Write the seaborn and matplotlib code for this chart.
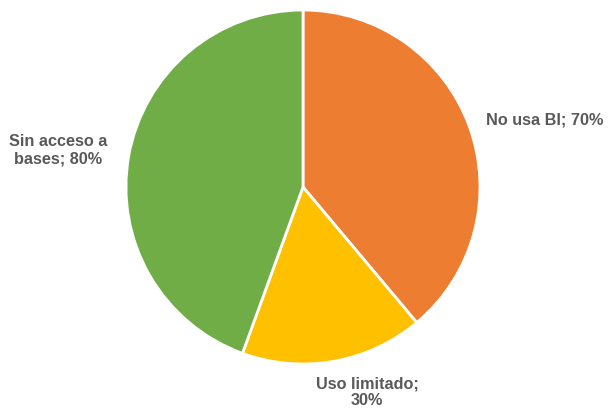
import matplotlib
matplotlib.use("Agg")
import matplotlib.pyplot as plt
import seaborn as sns

categories = ["No usa BI", "Uso limitado", "Sin acceso a bases"]
values = [70, 30, 80]
label_texts = ["No usa BI; 70%", "Uso limitado;\n30%", "Sin acceso a\nbases; 80%"]
colors = ["#ED7D31", "#FFC000", "#70AD47"]

sns.set_style("white")
plt.rcParams["font.family"] = ["Liberation Sans", "DejaVu Sans"]

fig = plt.figure(figsize=(6.09, 4.09), dpi=100)
cx, cy, r = 303, 187, 177
W, H = 609, 409
ax = fig.add_axes([(cx - r) / W, (H - cy - r) / H, 2 * r / W, 2 * r / H])

wedges, _ = ax.pie(values, colors=colors, startangle=90, counterclock=False,
                   radius=1.0, wedgeprops=dict(edgecolor="white", linewidth=2))
ax.set_xlim(-1, 1)
ax.set_ylim(-1, 1)
ax.set_aspect("equal")
ax.axis("off")

# label anchor points (data coordinates, outside the pie)
label_pos = [(1.367, 0.379), (0.362, -1.16), (-1.384, 0.209)]
for txt, (x, y) in zip(label_texts, label_pos):
    ax.text(x, y, txt, ha="center", va="center", fontsize=11.7, fontweight="bold",
            color="#595959", clip_on=False, linespacing=1.17)

fig.savefig("out.png", dpi=100)
